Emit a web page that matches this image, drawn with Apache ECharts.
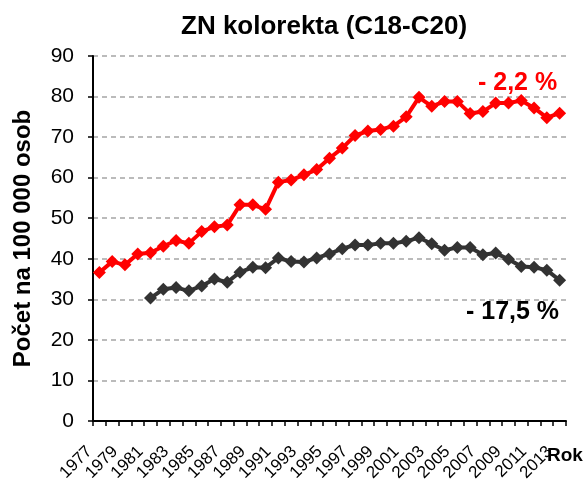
<!DOCTYPE html>
<html>
<head>
<meta charset="utf-8">
<script src="https://cdn.jsdelivr.net/npm/echarts@6/dist/echarts.min.js"></script>
<style>html,body{margin:0;padding:0;background:#fff}#c{width:588px;height:489px}</style>
</head>
<body>
<div id="c"></div>
<script>
const years = [];
for (let y = 1977; y <= 2013; y++) years.push(String(y));
const totalRed = [36.6, 39.3, 38.5, 41.2, 41.5, 43.1, 44.5, 43.8, 46.7, 47.9, 48.3, 53.3, 53.3, 52.2, 58.9, 59.4, 60.7, 62.0, 64.8, 67.3, 70.4, 71.5, 71.9, 72.7, 75.0, 79.8, 77.6, 78.8, 78.8, 75.8, 76.3, 78.4, 78.4, 79.0, 77.2, 74.8, 75.9];
const totalDark = [null, null, null, null, 30.3, 32.5, 32.9, 32.1, 33.3, 35.0, 34.2, 36.7, 37.9, 37.8, 40.2, 39.3, 39.2, 40.2, 41.2, 42.5, 43.4, 43.4, 43.8, 43.8, 44.3, 45.2, 43.7, 42.1, 42.8, 42.8, 41.0, 41.4, 39.9, 38.1, 37.9, 37.2, 34.7];
const yTicks = [0, 10, 20, 30, 40, 50, 60, 70, 80, 90];
const titleText = 'ZN kolorekta (C18-C20)';
const yName = 'Počet na 100 000 osob';
const xName = 'Rok';
const noteRed = '- 2,2 %';
const noteDark = '- 17,5 %';

const FF = '"Liberation Sans", Arial, sans-serif';
const chart = echarts.init(document.getElementById('c'), null, {renderer: 'canvas'});
chart.setOption({
  animation: false,
  backgroundColor: '#ffffff',
  title: {
    text: titleText, left: 176, top: 9,
    textStyle: {fontFamily: FF, fontSize: 26, fontWeight: 'bold', color: '#000'}
  },
  grid: {left: 93, right: 22, top: 56, bottom: 68, containLabel: false, outerBoundsMode: 'none'},
  xAxis: {
    type: 'category', data: years, boundaryGap: true,
    axisLine: {lineStyle: {color: '#000', width: 2}},
    axisTick: {show: true, interval: 0, length: 5, lineStyle: {color: '#000', width: 1.5}},
    axisLabel: {interval: 1, rotate: 45, margin: 18, padding: [0, 14, 0, 0],
      fontFamily: FF, fontSize: 17, color: '#000'},
    splitLine: {show: false}
  },
  yAxis: {
    type: 'value', min: yTicks[0], max: yTicks[yTicks.length - 1], interval: 10,
    name: yName, nameLocation: 'middle', nameGap: 58, nameRotate: 90,
    nameTextStyle: {fontFamily: FF, fontSize: 24, fontWeight: 'bold', color: '#000'},
    axisLine: {show: true, lineStyle: {color: '#000', width: 2}},
    axisTick: {show: true, length: 5, lineStyle: {color: '#000', width: 1.5}},
    axisLabel: {margin: 19, fontFamily: FF, fontSize: 21, color: '#000'},
    splitLine: {show: true, lineStyle: {color: '#BBBBBB', width: 2, type: [5, 4]}}
  },
  graphic: [
    {type: 'text', left: 478, top: 71, style: {text: noteRed, fontFamily: FF, fontSize: 25, fontWeight: 'bold', fill: '#FF0000'}},
    {type: 'text', left: 466, top: 300, style: {text: noteDark, fontFamily: FF, fontSize: 25, fontWeight: 'bold', fill: '#000'}},
    {type: 'text', left: 547, top: 446, style: {text: xName, fontFamily: FF, fontSize: 19, fontWeight: 'bold', fill: '#000'}}
  ],
  series: [
    {type: 'line', data: totalRed, symbol: 'diamond', symbolSize: 13, showAllSymbol: true,
      lineStyle: {color: '#FF0000', width: 4}, itemStyle: {color: '#FF0000'}},
    {type: 'line', data: totalDark, symbol: 'diamond', symbolSize: 13, showAllSymbol: true, connectNulls: false,
      lineStyle: {color: '#333333', width: 4}, itemStyle: {color: '#333333'}}
  ]
});
</script>
</body>
</html>
